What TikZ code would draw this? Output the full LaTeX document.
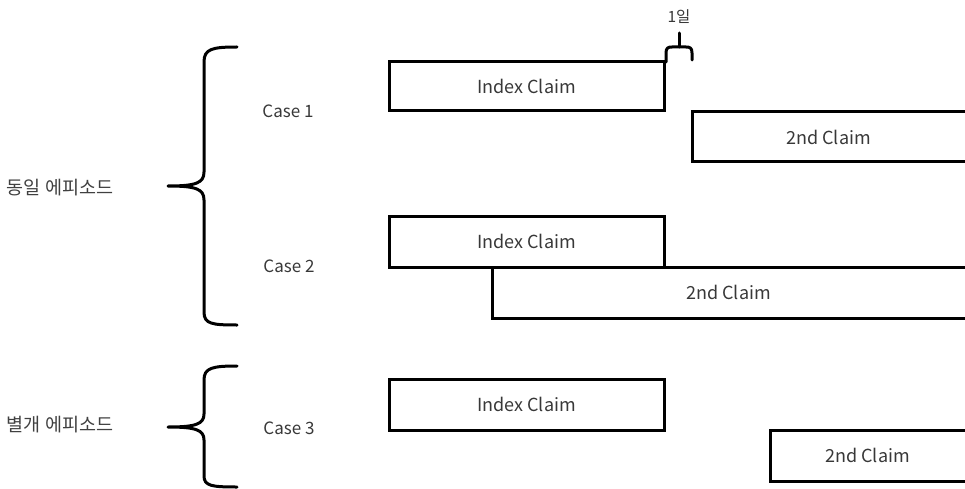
\documentclass[tikz,border=0pt]{standalone}
\usepackage{fontspec}
\setmainfont{Noto Sans CJK KR}
\begin{document}
\begin{tikzpicture}[x=1pt,y=-1pt,
  claim/.style={draw=black,line width=3pt,rectangle,inner sep=0pt,
    font=\fontsize{18}{20}\selectfont,text=black!78},
  caselabel/.style={font=\fontsize{17}{19}\selectfont,text=black!78},
  grouplabel/.style={font=\fontsize{18.5}{21}\selectfont,text=black!75},
  brace/.style={line width=3pt,line cap=round,line join=round}]
\useasboundingbox (0,0) rectangle (965,489);

% case 1
\node[claim,minimum width=275pt,minimum height=49pt] (idx1) at (526.5,86.5) {Index Claim};
\node[claim,minimum width=278pt,minimum height=50pt] (sec1) at (831,137) {};
\node[claim,draw=none] at (828.5,137) {2nd Claim};
\node[caselabel] (case1) at (288,111) {Case 1};

% case 2
\node[claim,minimum width=275pt,minimum height=51pt] (idx2) at (526.5,241.5) {Index Claim};
\node[claim,minimum width=478pt,minimum height=51pt] (sec2) at (731,292.5) {};
\node[claim,draw=none] at (728.5,292.5) {2nd Claim};
\node[caselabel] (case2) at (289,266) {Case 2};

% case 3
\node[claim,minimum width=275pt,minimum height=51pt] (idx3) at (526.5,404.5) {Index Claim};
\node[claim,minimum width=200pt,minimum height=51pt] (sec3) at (870,455.5) {};
\node[claim,draw=none] at (867.5,455.5) {2nd Claim};
\node[caselabel] (case3) at (289,428) {Case 3};

% group labels
\node[grouplabel] (same) at (60,188) {동일 에피소드};
\node[grouplabel] (diff) at (60,425) {별개 에피소드};

% large brace: same episode
\draw[brace] (237,47) .. controls (212,47) and (204,49) .. (204,62)
  -- (204,172) .. controls (204,183) and (196,186) .. (168,186)
  .. controls (196,186) and (204,189) .. (204,200)
  -- (204,312) .. controls (204,324) and (212,325) .. (237,325);

% brace: separate episode
\draw[brace] (237,366) .. controls (212,366) and (204,368) .. (204,380)
  -- (204,414) .. controls (204,424) and (196,427) .. (168,427)
  .. controls (196,427) and (204,430) .. (204,440)
  -- (204,476) .. controls (204,486) and (212,487) .. (237,487);

% one-day gap marker
\coordinate (gapL) at (666,62);
\coordinate (gapR) at (692,60);
\coordinate (gapTip) at (679,33);
\draw[brace] (gapL) -- (666,53) .. controls (666,48) and (668,47) .. (672,47)
  -- (686,47) .. controls (690,47) and (692,48) .. (692,53) -- (gapR);
\draw[brace] (679,47) -- (gapTip);
\node[caselabel,font=\fontsize{15.5}{18}\selectfont] (gap) at (679,17) {1일};
\end{tikzpicture}
\end{document}
